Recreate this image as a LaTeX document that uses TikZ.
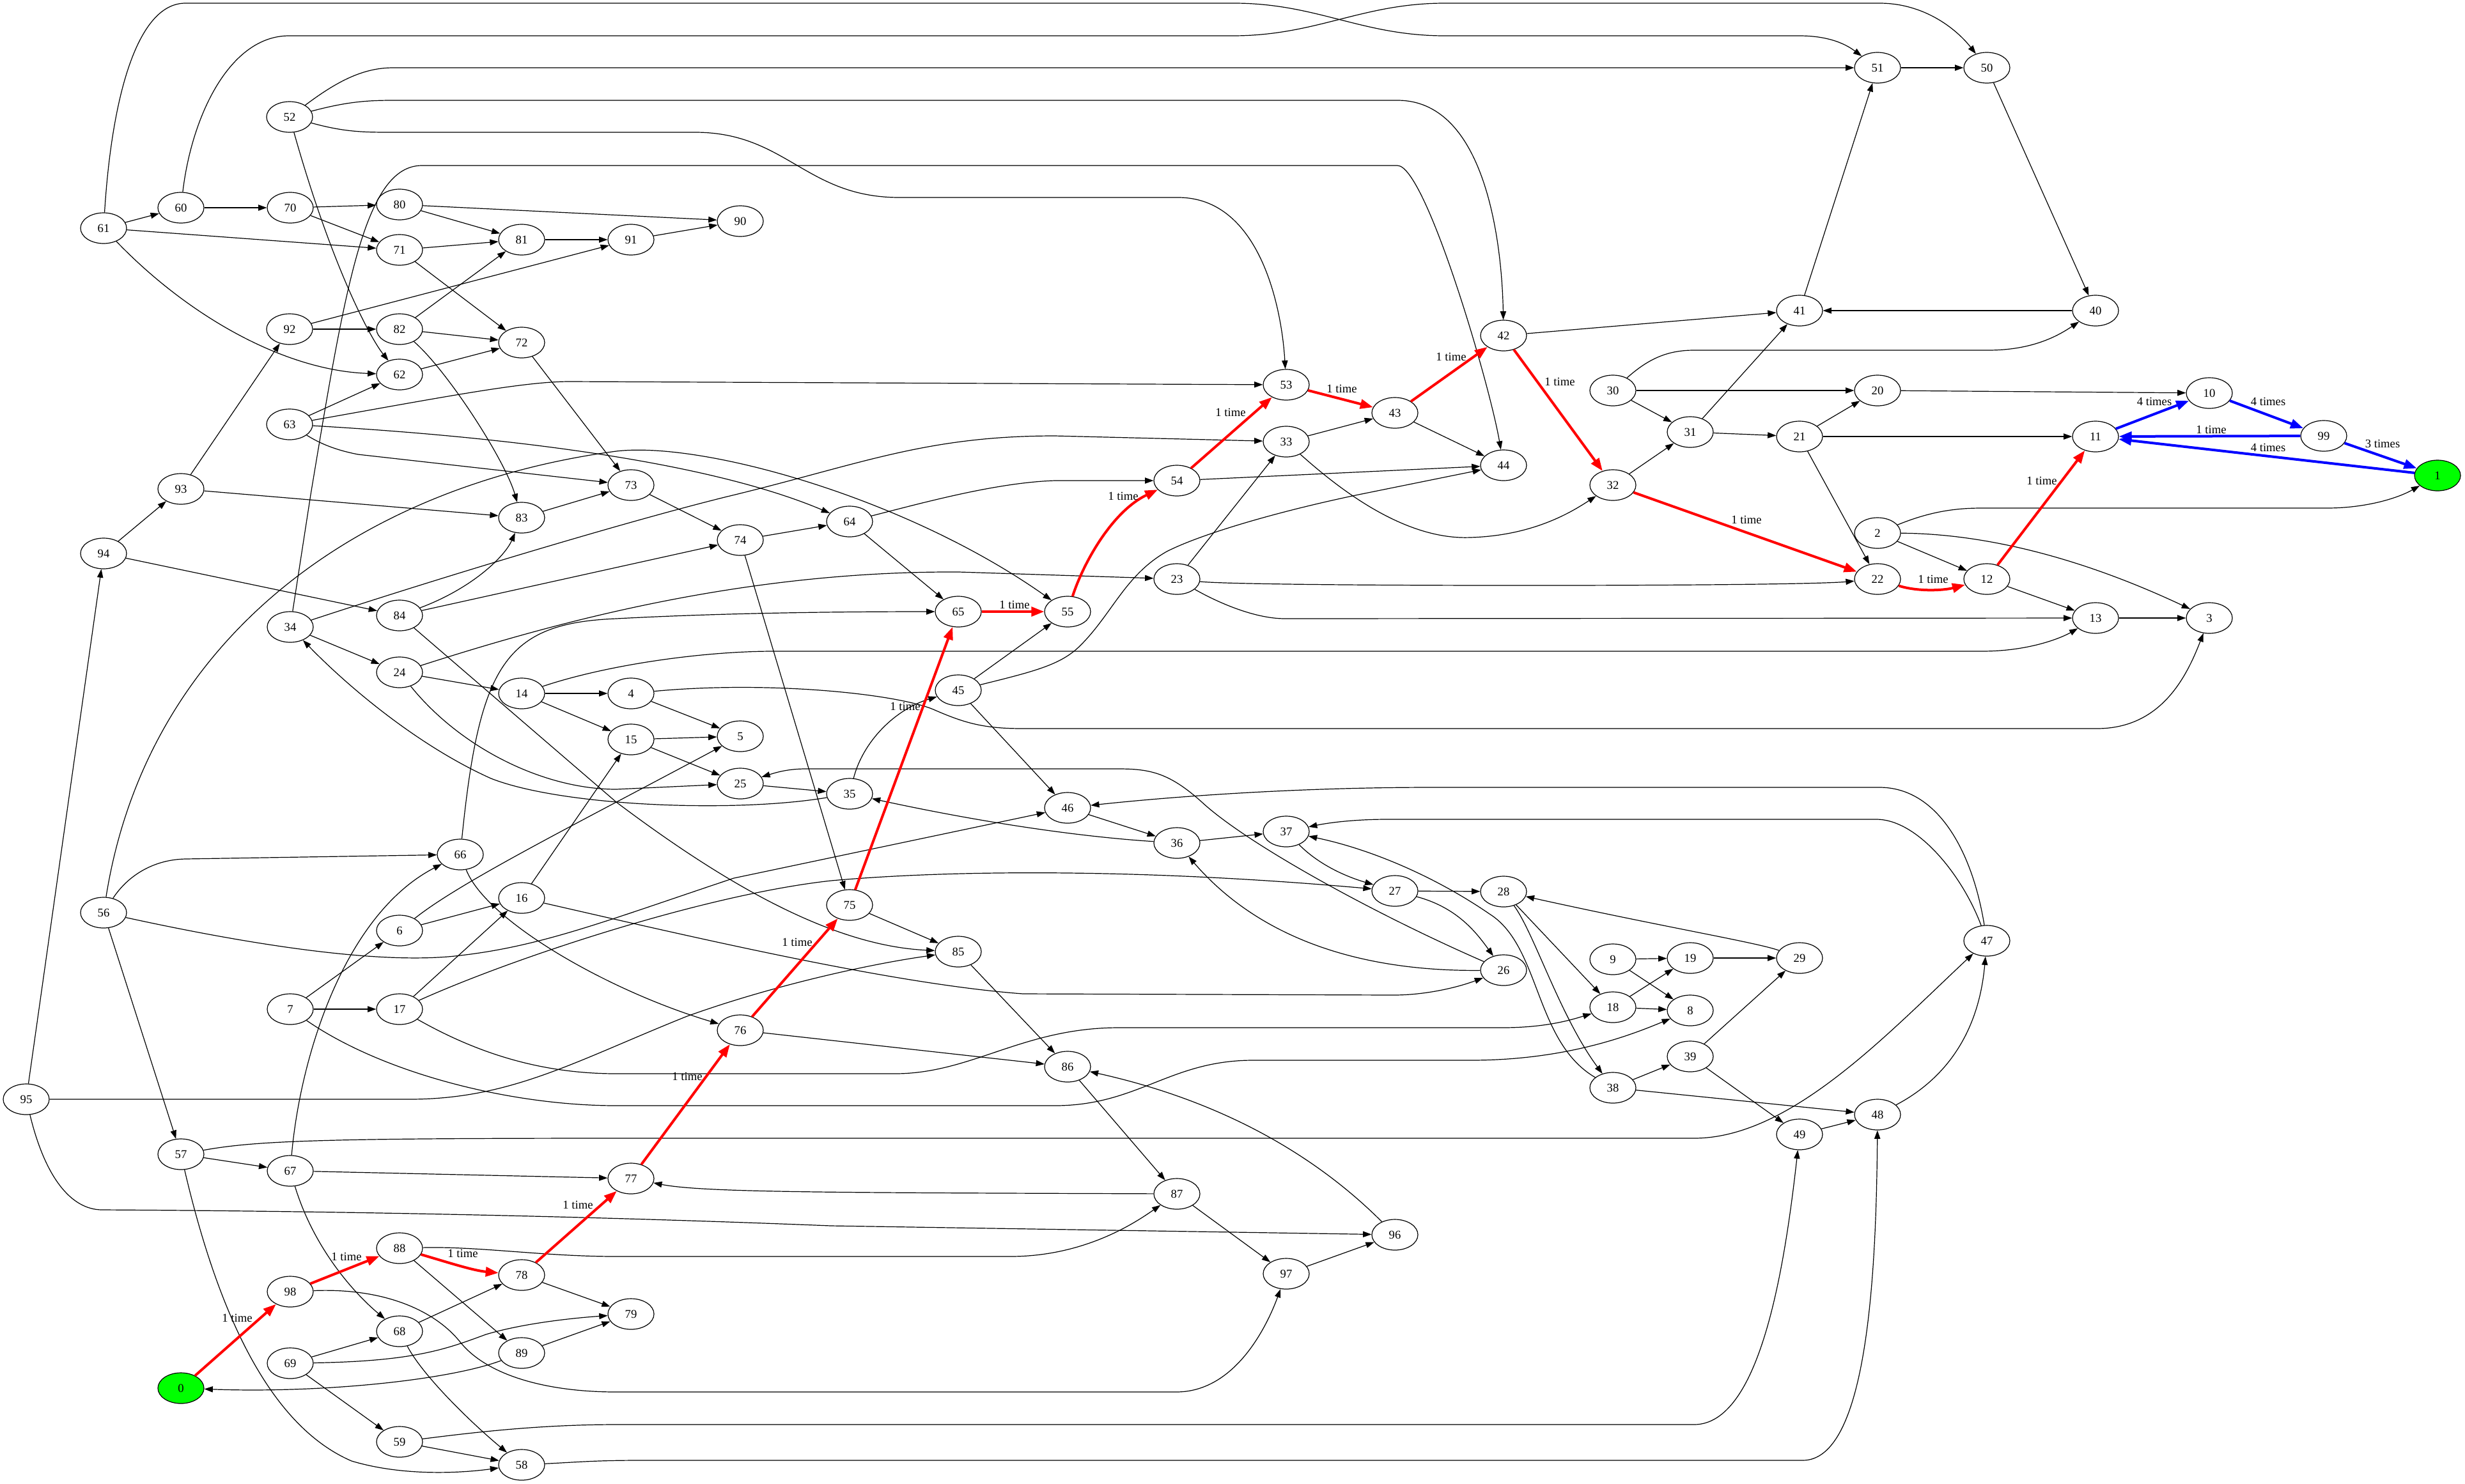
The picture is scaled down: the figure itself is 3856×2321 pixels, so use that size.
\documentclass[tikz,border=0pt]{standalone}
\usepackage{fontspec}
\setmainfont{Liberation Serif}
\usetikzlibrary{shapes.geometric,arrows.meta}
\definecolor{gvgreen}{RGB}{0,255,0}
\begin{document}
\begin{tikzpicture}[x=0.75pt,y=-0.75pt,
  v/.style={draw,ellipse,line width=0.9pt,minimum width=54pt,minimum height=36pt,inner sep=0pt,font=\fontsize{14}{16}\selectfont},
  e/.style={draw,line width=0.9pt,-{Triangle[length=10pt,width=7pt]}},
  re/.style={draw=red,line width=3pt,-{Triangle[length=15pt,width=11pt]}},
  be/.style={draw=blue,line width=3pt,-{Triangle[length=15pt,width=11pt]}},
  lab/.style={font=\fontsize{14}{16}\selectfont,inner sep=1pt}]
\fill[white] (0,0) rectangle (3856,2321);
\useasboundingbox (0,0) rectangle (3856,2321);
% nodes
\node[v,fill=gvgreen] (n0) at (283,2172) {0};
\node[v,fill=gvgreen] (n1) at (3813,744) {1};
\foreach \p/\q/\r in {2/2937/834,3/3456/967,4/987/1085,5/1158/1152,6/625/1456,7/454/1579,8/2644/1581,9/2523/1501,
10/3456/615,11/3278/683,12/3108/906,13/3278/967,14/816/1085,15/987/1157,16/816/1405,17/625/1579,18/2523/1576,19/2644/1499,
20/2937/611,21/2815/683,22/2937/906,23/1841/906,24/625/1052,25/1158/1226,26/2352/1518,27/2182/1394,28/2352/1395,29/2815/1499,
30/2523/611,31/2644/676,32/2523/759,33/2012/691,34/454/981,35/1329/1242,36/1841/1319,37/2012/1301,38/2523/1702,39/2644/1653,
40/3278/486,41/2815/486,42/2352/525,43/2182/646,44/2352/728,45/1499/1080,46/1670/1264,47/3108/1472,48/2937/1744,49/2815/1775,
50/3108/106,51/2937/106,52/453/183,53/2012/602,54/1841/752,55/1670/957,56/162/1428,57/283/1806,58/816/2292,59/625/2256,
60/283/325,61/162/357,62/625/586,63/453/664,64/1329/816,65/1499/957,66/720/1337,67/454/1832,68/625/2083,69/454/2133,
70/454/325,71/625/391,72/816/536,73/987/759,74/1158/845,75/1329/1416,76/1158/1612,77/987/1844,78/816/1995,79/987/2056,
80/625/320,81/816/375,82/625/515,83/816/810,84/625/963,85/1499/1489,86/1670/1669,87/1841/1868,88/625/1953,89/816/2117,
90/1158/346,91/987/375,92/453/515,93/283/765,94/162/866,95/41/1720,96/2182/1932,97/2012/1993,98/454/2021,99/3635/682}
  \node[v] (n\p) at (\q,\r) {\p};
% straight black edges
\foreach \a/\b in {61/60,60/70,70/80,70/71,61/71,80/81,71/81,81/91,91/90,80/90,92/82,82/81,71/72,82/72,62/72,63/62,72/73,
92/91,93/92,94/93,95/94,93/83,94/84,83/73,84/74,34/24,24/14,14/4,14/15,15/5,4/5,15/25,25/35,73/74,74/64,64/65,74/75,
45/55,45/46,46/36,36/37,27/28,28/18,9/19,9/8,18/19,18/8,19/29,38/39,38/48,39/49,39/29,49/48,75/85,85/86,76/86,86/87,
87/97,97/96,6/16,7/6,7/17,17/16,16/15,56/57,57/67,67/77,69/68,69/59,59/58,68/78,88/89,78/79,89/79,2/12,12/13,13/3,
21/20,21/11,31/21,30/31,30/20,31/41,32/31,42/41,41/51,40/41,51/50,50/40,20/10,43/44,33/43,23/33,21/22,54/44}
  \draw[e] (n\a) -- (n\b);
% curved black edges
\draw[e] (n61) .. controls (175,150) and (215,5) .. (290,5) -- (1930,5) .. controls (2060,5) and (2130,56) .. (2260,56) -- (2815,56) .. controls (2870,56) and (2895,75) .. (n51);
\draw[e] (n60) .. controls (300,180) and (360,56) .. (452,56) -- (1928,56) .. controls (2060,56) and (2130,5) .. (2260,5) -- (2940,5) .. controls (3010,5) and (3060,45) .. (n50);
\draw[e] (n52) .. controls (530,125) and (570,106) .. (615,106) -- (n51);
\draw[e] (n52) .. controls (540,160) and (570,157) .. (615,157) -- (2186,157) .. controls (2330,157) and (2350,400) .. (n42);
\draw[e] (n52) .. controls (540,207) and (570,207) .. (615,207) -- (1087,207) .. controls (1230,207) and (1260,309) .. (1407,309) -- (1843,309) .. controls (1970,309) and (2005,480) .. (n53);
\draw[e] (n52) .. controls (520,420) and (580,530) .. (n62);
\draw[e] (n63) .. controls (700,620) and (820,597) .. (891,597) -- (n53);
\draw[e] (n34) -- (486,774) .. controls (540,450) and (570,259) .. (660,259) -- (2186,259) .. controls (2230,259) and (2330,600) .. (n44);
\draw[e] (n61) .. controls (300,500) and (450,580) .. (n62);
\draw[e] (n82) .. controls (700,580) and (790,720) .. (n83);
\draw[e] (n84) .. controls (740,920) and (790,870) .. (n83);
\draw[e] (n84) -- (964,1255) .. controls (1130,1380) and (1300,1480) .. (n85);
\draw[e] (n24) .. controls (850,980) and (1150,893) .. (1500,895) -- (n23);
\draw[e] (n24) .. controls (720,1170) and (850,1235) .. (964,1235) -- (n25);
\draw[e] (n35) .. controls (1150,1272) and (880,1262) .. (768,1218) .. controls (650,1165) and (540,1070) .. (n34);
\draw[e] (n66) .. controls (750,1040) and (790,975) .. (964,968) .. controls (1150,958) and (1350,957) .. (n65);
\draw[e] (n14) .. controls (950,1040) and (1100,1019) .. (1210,1019) -- (3100,1019) .. controls (3180,1019) and (3230,995) .. (n13);
\draw[e] (n4) .. controls (1200,1065) and (1400,1085) .. (1460,1110) .. controls (1510,1132) and (1540,1140) .. (1600,1140) -- (3280,1140) .. controls (3380,1140) and (3420,1060) .. (n3);
\draw[e] (n23) .. controls (1950,918) and (2800,918) .. (n22);
\draw[e] (n23) .. controls (1900,940) and (1960,968) .. (2010,968) -- (n13);
\draw[e] (n33) .. controls (2100,770) and (2200,845) .. (2300,841) .. controls (2400,838) and (2460,800) .. (n32);
\draw[e] (n45) .. controls (1620,1050) and (1660,1040) .. (1690,1010) .. controls (1740,960) and (1760,900) .. (1825,863) .. controls (1880,835) and (2000,800) .. (2125,774) -- (n44);
\draw[e] (n64) .. controls (1450,785) and (1560,755) .. (1650,752) -- (n54);
\draw[e] (n63) .. controls (900,690) and (1150,740) .. (n64);
\draw[e] (n63) .. controls (510,700) and (540,707) .. (560,711) -- (n73);
\draw[e] (n56) .. controls (230,1000) and (560,760) .. (964,706) .. controls (1100,690) and (1420,780) .. (n55);
\draw[e] (n34) .. controls (700,900) and (1000,810) .. (1150,774) .. controls (1350,725) and (1450,682) .. (1650,682) -- (n33);
\draw[e] (n56) .. controls (400,1480) and (600,1510) .. (720,1495) .. controls (850,1480) and (950,1440) .. (1148,1374) -- (n46);
\draw[e] (n16) .. controls (1100,1470) and (1400,1540) .. (1600,1555) -- (2180,1557) .. controls (2230,1557) and (2280,1545) .. (n26);
\draw[e] (n17) .. controls (800,1500) and (1100,1400) .. (1300,1378) .. controls (1500,1360) and (1800,1360) .. (n27);
\draw[e] (n66) .. controls (760,1440) and (950,1550) .. (n76);
\draw[e] (n67) .. controls (470,1650) and (540,1430) .. (n66);
\draw[e] (n56) .. controls (200,1370) and (240,1345) .. (290,1344) -- (n66);
\draw[e] (n6) .. controls (720,1380) and (900,1290) .. (n5);
\draw[e] (n7) .. controls (600,1680) and (800,1730) .. (964,1730) -- (1650,1730) .. controls (1780,1730) and (1830,1659) .. (1960,1659) -- (2300,1659) .. controls (2450,1659) and (2550,1620) .. (n8);
\draw[e] (n17) .. controls (750,1650) and (850,1680) .. (964,1680) -- (1400,1680) .. controls (1520,1680) and (1600,1608) .. (1750,1608) -- (2350,1608) .. controls (2420,1608) and (2460,1595) .. (n18);
\draw[e] (n95) -- (640,1720) .. controls (800,1720) and (900,1660) .. (1075,1590) .. controls (1200,1545) and (1350,1510) .. (n85);
\draw[e] (n95) .. controls (70,1840) and (110,1893) .. (160,1893) .. controls (700,1896) and (1100,1910) .. (1300,1918) -- (n96);
\draw[e] (n57) .. controls (400,1785) and (500,1781) .. (964,1781) -- (2650,1781) .. controls (2800,1781) and (2950,1620) .. (n47);
\draw[e] (n59) .. controls (750,2240) and (850,2229) .. (964,2229) -- (2650,2229) .. controls (2750,2229) and (2790,2000) .. (n49);
\draw[e] (n58) .. controls (900,2288) and (930,2285) .. (1000,2285) -- (2820,2285) .. controls (2920,2285) and (2935,2000) .. (n48);
\draw[e] (n98) .. controls (600,2015) and (680,2050) .. (720,2100) .. controls (760,2150) and (850,2178) .. (964,2178) -- (1840,2178) .. controls (1930,2178) and (1980,2080) .. (n97);
\draw[e] (n88) .. controls (750,1950) and (850,1966) .. (964,1966) -- (1580,1966) .. controls (1700,1966) and (1780,1910) .. (n87);
\draw[e] (n87) .. controls (1300,1866) and (1100,1866) .. (n77);
\draw[e] (n96) .. controls (2050,1800) and (1900,1720) .. (n86);
\draw[e] (n89) .. controls (700,2160) and (500,2180) .. (n0);
\draw[e] (n69) .. controls (650,2130) and (700,2110) .. (760,2088) .. controls (820,2070) and (900,2062) .. (n79);
\draw[e] (n57) .. controls (340,2050) and (420,2230) .. (550,2286) .. controls (630,2310) and (720,2305) .. (n58);
\draw[e] (n67) .. controls (490,1950) and (550,2020) .. (n68);
\draw[e] (n68) .. controls (660,2150) and (730,2220) .. (n58);
\draw[e] (n2) .. controls (3020,800) and (3060,795) .. (3100,795) -- (3640,795) .. controls (3700,795) and (3750,780) .. (n1);
\draw[e] (n2) .. controls (3100,835) and (3250,870) .. (n3);
\draw[e] (n30) .. controls (2580,560) and (2610,548) .. (2650,548) -- (3110,548) .. controls (3180,548) and (3220,525) .. (n40);
\draw[e] (n47) .. controls (3070,1370) and (3000,1282) .. (2935,1282) -- (2170,1282) .. controls (2120,1282) and (2080,1287) .. (n37);
\draw[e] (n47) .. controls (3085,1330) and (3030,1232) .. (2940,1232) -- (2240,1232) .. controls (2000,1232) and (1800,1250) .. (n46);
\draw[e] (n38) .. controls (2400,1630) and (2410,1480) .. (2330,1430) .. controls (2250,1375) and (2150,1330) .. (n37);
\draw[e] (n28) .. controls (2400,1460) and (2440,1590) .. (n38);
\draw[e] (n26) .. controls (2150,1430) and (1950,1320) .. (1880,1255) .. controls (1830,1210) and (1800,1203) .. (1750,1203) -- (1260,1203) .. controls (1230,1203) and (1210,1210) .. (n25);
\draw[e] (n26) .. controls (2150,1520) and (1980,1480) .. (n36);
\draw[e] (n27) .. controls (2280,1420) and (2310,1460) .. (n26);
\draw[e] (n37) .. controls (2060,1350) and (2100,1370) .. (n27);
\draw[e] (n29) .. controls (2750,1475) and (2600,1450) .. (n28);
\draw[e] (n36) .. controls (1700,1310) and (1550,1290) .. (n35);
\draw[e] (n35) .. controls (1350,1160) and (1400,1110) .. (n45);
\draw[e] (n48) .. controls (3040,1690) and (3095,1620) .. (n47);
% red path
\draw[re] (n0) -- (n98);
\draw[re] (n98) -- (n88);
\draw[re] (n88) .. controls (700,1975) and (740,1988) .. (n78);
\draw[re] (n78) -- (n77);
\draw[re] (n77) -- (n76);
\draw[re] (n76) -- (n75);
\draw[re] (n75) -- (n65);
\draw[re] (n65) -- (n55);
\draw[re] (n55) .. controls (1695,880) and (1740,800) .. (n54);
\draw[re] (n54) -- (n53);
\draw[re] (n53) -- (n43);
\draw[re] (n43) -- (n42);
\draw[re] (n42) -- (n32);
\draw[re] (n32) -- (n22);
\draw[re] (n22) .. controls (3000,926) and (3040,924) .. (n12);
\draw[re] (n12) -- (n11);
% blue cycle
\draw[be] (n11) -- (n10);
\draw[be] (n10) -- (n99);
\draw[be] (n99) -- (n11);
\draw[be] (n99) -- (n1);
\draw[be] (n1) -- (n11);
% labels
\node[lab] (t1) at (371,2062) {1 time};
\node[lab] (t2) at (542,1966) {1 time};
\node[lab] (t3) at (724,1961) {1 time};
\node[lab] (t4) at (904,1885) {1 time};
\node[lab] (t5) at (1075,1684) {1 time};
\node[lab] (t6) at (1247,1474) {1 time};
\node[lab] (t7) at (1416,1105) {1 time};
\node[lab] (t8) at (1587,946) {1 time};
\node[lab] (t9) at (1757,776) {1 time};
\node[lab] (t10) at (1925,645) {1 time};
\node[lab] (t11) at (2099,608) {1 time};
\node[lab] (t12) at (2270,558) {1 time};
\node[lab] (t13) at (2440,597) {1 time};
\node[lab] (t14) at (2732,813) {1 time};
\node[lab] (t15) at (3024,906) {1 time};
\node[lab] (t16) at (3194,752) {1 time};
\node[lab] (t17) at (3370,628) {4 times};
\node[lab] (t18) at (3548,628) {4 times};
\node[lab] (t19) at (3459,672) {1 time};
\node[lab] (t20) at (3548,700) {4 times};
\node[lab] (t21) at (3727,694) {3 times};
\end{tikzpicture}
\end{document}
